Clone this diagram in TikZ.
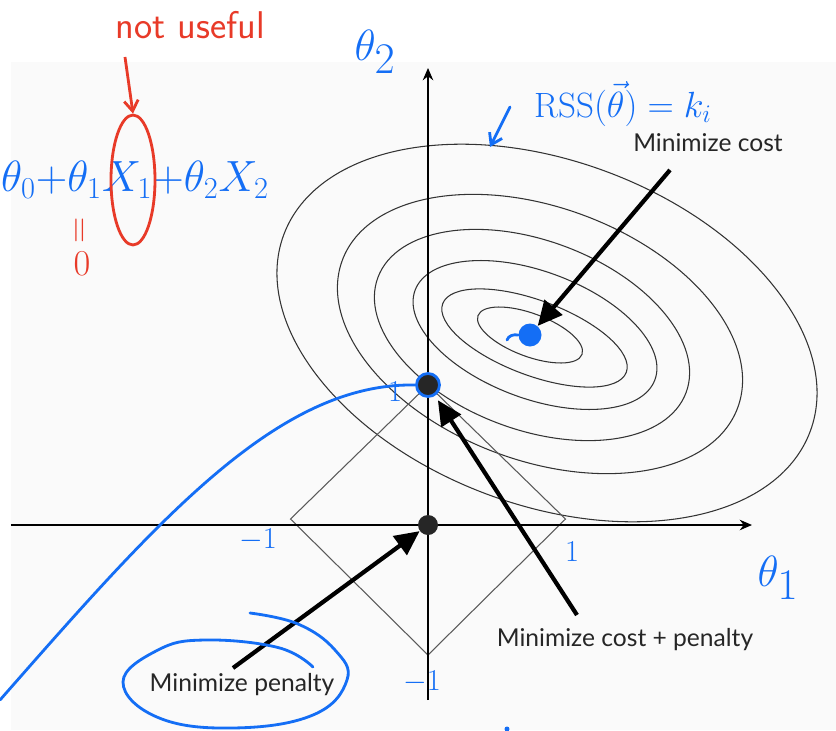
\documentclass[tikz,border=0pt]{standalone}
\usepackage{fontspec}
\newfontfamily\labelfont{Lato}
\usetikzlibrary{arrows.meta,shapes.geometric}
\definecolor{inkblue}{RGB}{20,110,245}
\definecolor{inkred}{RGB}{232,58,40}
\definecolor{paper}{RGB}{250,250,250}
\begin{document}
\begin{tikzpicture}[scale=1.0,
    axis/.style={line width=0.8pt, -{Stealth[length=7pt,width=6pt]}},
    contour/.style={line width=0.6pt, black!80},
    bigarrow/.style={line width=2.4pt, -{Triangle[length=14pt,width=13pt]}},
    dot/.style={circle, fill=black!85, inner sep=0pt, minimum size=0.4cm},
    lbl/.style={font=\labelfont\fontsize{14}{16}\selectfont, text=black!85, inner sep=1pt},
    ink/.style={inkblue, line width=1.6pt, line cap=round},
    inktxt/.style={text=inkblue, font=\fontsize{16}{18}\selectfont, inner sep=1pt},
    redtxt/.style={text=inkred, font=\sffamily\fontsize{22}{24}\selectfont, inner sep=1pt}]
    \useasboundingbox (-8.56,-4.1) rectangle (8.16,10.5);
    \fill[paper] (-8.34,-4.1) rectangle (8.16,9.26);
    % level curves of the cost
    \foreach \cx/\cy/\a/\b in {2.04/3.8/1.11/0.43, 2.13/3.74/1.96/0.75,
        2.14/3.8/2.56/1.27, 2.08/3.8/3.29/1.89, 2.24/3.82/4.22/2.53,
        2.38/3.84/5.62/3.44}
      \draw[contour, rotate around={-20.5:(\cx,\cy)}] (\cx,\cy) ellipse (\a cm and \b cm);
    % penalty region
    \draw[line width=0.6pt, black!65] (-2.75,0.12) -- (0,2.8) -- (2.75,0.12) -- (0,-2.6) -- cycle;
    \draw[axis] (-8.34,0) -- (6.48,0);
    \draw[axis] (0,-3.5) -- (0,9.14);
    \node[dot] (orig) at (0,0) {};
    \node[dot, draw=inkblue, line width=1.6pt, minimum size=0.46cm] (corner) at (0,2.8) {};
    \node[dot, fill=inkblue, minimum size=0.46cm] (cmin) at (2.04,3.8) {};
    \node[lbl] (costlbl) at (5.6,7.64) {Minimize cost};
    \node[lbl] (bothlbl) at (3.94,-2.3) {Minimize cost + penalty};
    \node[lbl] (penlbl) at (-3.72,-3.2) {Minimize penalty};
    \coordinate (cstail) at (4.84,7.1);
    \coordinate (bttail) at (2.98,-1.8);
    \coordinate (pntail) at (-3.9,-2.86);
    \draw[bigarrow] (cstail) -- (cmin);
    \draw[bigarrow, shorten >=3pt] (bttail) -- (corner);
    \draw[bigarrow] (pntail) -- (orig);
    % notes in blue
    \node[inktxt, font=\fontsize{36}{36}\selectfont] (th2) at (-1.06,9.46) {$\theta_2$};
    \node[inktxt, font=\fontsize{36}{36}\selectfont] (th1) at (7.0,-1.06) {$\theta_1$};
    \node[inktxt, font=\fontsize{20}{22}\selectfont] (rss) at (3.9,8.42) {RSS$(\vec{\theta})=k_i$};
    \node[inktxt, font=\fontsize{26}{28}\selectfont] (model) at (-5.86,6.9)
      {$\theta_0\mathord{+}\theta_1X_1\mathord{+}\theta_2X_2$};
    \node[inktxt] (mleft) at (-3.4,-0.3) {$-1$};
    \node[inktxt] (mright) at (2.88,-0.54) {$1$};
    \node[inktxt] (mdown) at (-0.12,-3.14) {$-1$};
    \node[inktxt] (mup) at (-0.66,2.66) {$1$};
    \coordinate (rsstail) at (1.64,8.36);
    \coordinate (rsshead) at (1.24,7.56);
    \draw[ink, -{Straight Barb[length=6pt,width=8pt]}] (rsstail) -- (rsshead);
    \draw[ink] (-8.56,-3.5) .. controls (-5.4,0.1) and (-3.0,2.85) .. (corner.west);
    \draw[ink] (1.58,3.7) to[out=70,in=170] (cmin.west);
    \draw[ink] plot[smooth, tension=0.7] coordinates {(-3.56,-1.76) (-2.6,-1.98)
      (-1.86,-2.5) (-1.62,-3.1) (-2.3,-3.8) (-3.9,-4.06) (-5.4,-3.85) (-6.1,-3.14)
      (-5.4,-2.5) (-4.46,-2.3) (-3.0,-2.45) (-2.3,-2.84)};
    \fill[inkblue] (1.58,-4.08) circle (0.05);
    % notes in red
    \node[redtxt] (nu) at (-4.76,10.0) {not useful};
    \node[draw=inkred, line width=1.6pt, ellipse, minimum width=0.88cm,
      minimum height=2.6cm] (x1ring) at (-5.9,6.9) {};
    \draw[inkred, line width=1.6pt, -{Straight Barb[length=6pt,width=8pt]}]
      (-6.06,9.36) -- (x1ring.north);
    \node[redtxt, rotate=90] (eqs) at (-6.92,5.9) {$=$};
    \node[redtxt] (zero) at (-6.92,5.22) {$0$};
  \end{tikzpicture}
\end{document}
